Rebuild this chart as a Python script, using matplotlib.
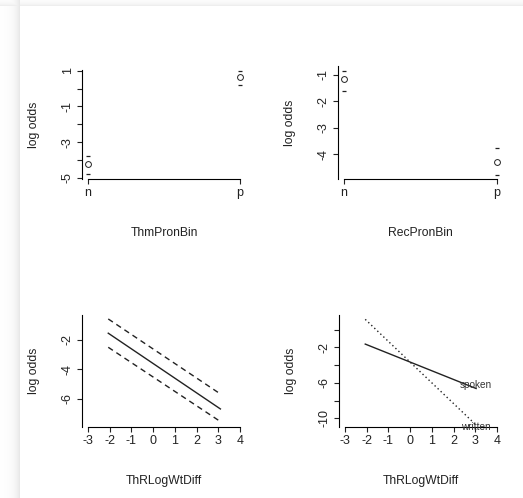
import numpy as np
import matplotlib.pyplot as plt

plt.rcParams['font.family'] = ['Liberation Sans', 'DejaVu Sans']

W, H = 523, 498

# ---- data ----
# panel 1: ThmPronBin (estimate, lower, upper)
thm_levels = ['n', 'p']
thm_est = [-4.24, 0.63]
thm_lo = [-4.79, 0.22]
thm_hi = [-3.78, 0.96]

# panel 2: RecPronBin
rec_levels = ['n', 'p']
rec_est = [-1.16, -4.28]
rec_lo = [-1.59, -4.79]
rec_hi = [-0.84, -3.78]

# panel 3: ThRLogWtDiff with confidence band
wt_x = [-2.07, 3.1]
wt_fit = [-1.54, -6.7]
wt_lower = [-2.5, -7.56]
wt_upper = [-0.57, -5.68]

# panel 4: ThRLogWtDiff by mode
mode_x = [-2.07, 3.04]
spoken = [-1.63, -6.64]
written = [1.16, -10.76]

fig = plt.figure(figsize=(W / 100, H / 100), dpi=100)

# page shadow on the left and top edges
xs = np.arange(W)[None, :]
ys = np.arange(H)[:, None]
shade = np.ones((H, W))
left = np.where(xs < 20, 1 - 0.11 * np.exp(-(20 - xs) / 5.0), 1.0)
top = np.where(ys < 6, 1 - 0.09 * np.exp(-(6 - ys) / 3.0), 1.0)
shade = np.minimum(shade * left, shade * top)
bg = fig.add_axes([0, 0, 1, 1], zorder=-1)
bg.imshow(np.dstack([shade] * 3), aspect='auto', extent=(0, W, H, 0))
bg.axis('off')


def make_ax(l, t, r, b):
    return fig.add_axes([l / W, 1 - b / H, (r - l) / W, (b - t) / H])


def style(ax, xt, xl, yt, yl, xlim, ylim, xlabel):
    ax.set_xlim(*xlim)
    ax.set_ylim(*ylim)
    for s in ['top', 'right']:
        ax.spines[s].set_visible(False)
    for s in ['left', 'bottom']:
        ax.spines[s].set_linewidth(0.8)
    ax.spines['bottom'].set_bounds(xt[0], xt[-1])
    ax.set_xticks(xt)
    ax.set_xticklabels(xl)
    ax.set_yticks(yt)
    ax.set_yticklabels(yl, rotation=90, va='center')
    ax.tick_params(length=3.8, width=0.8, pad=2, labelsize=9, direction='out',
                   colors='#222222')
    ax.set_xlabel(xlabel, fontsize=8.7, labelpad=20, color='#222222')
    ax.set_ylabel('log odds', fontsize=8.7, labelpad=16, color='#222222')
    ax.patch.set_alpha(0)


def cat_panel(ax, est, lo, hi):
    pos = [1, 2]
    ax.plot(pos, est, 'o', ms=4.2, mfc='none', mec='#222222', mew=0.7, clip_on=False)
    ax.plot(pos, lo, '_', ms=2.5, mec='#222222', mew=0.9, clip_on=False)
    ax.plot(pos, hi, '_', ms=2.5, mec='#222222', mew=0.9, clip_on=False)


# panel 1
ax1 = make_ax(82, 70, 246, 179)
cat_panel(ax1, thm_est, thm_lo, thm_hi)
style(ax1, [1, 2], thm_levels, list(range(-5, 2)),
      ['-5', '', '-3', '', '-1', '', '1'], (0.96, 2.04), (-5.06, 1.04), 'ThmPronBin')

# panel 2
ax2 = make_ax(338, 66, 503, 179)
cat_panel(ax2, rec_est, rec_lo, rec_hi)
style(ax2, [1, 2], rec_levels, [-4, -3, -2, -1], ['-4', '-3', '-2', '-1'],
      (0.96, 2.04), (-4.94, -0.66), 'RecPronBin')

# panel 3
ax3 = make_ax(82, 315, 246, 427)
ax3.plot(wt_x, wt_fit, color='#222222', lw=1.0)
ax3.plot(wt_x, wt_lower, color='#222222', lw=1.0, dashes=(4, 3))
ax3.plot(wt_x, wt_upper, color='#222222', lw=1.0, dashes=(4, 3))
style(ax3, list(range(-3, 5)), [str(v) for v in range(-3, 5)],
      [-6, -4, -2], ['-6', '-4', '-2'], (-3.28, 4.28), (-7.93, -0.30), 'ThRLogWtDiff')

# panel 4
ax4 = make_ax(339, 315, 503, 427)
ax4.plot(mode_x, spoken, color='#222222', lw=1.0)
ax4.plot(mode_x, written, color='#222222', lw=1.0, dashes=(1, 2))
ax4.text(2.3, spoken[-1] + 0.4, 'spoken', fontsize=7.2, va='center', ha='left',
         color='#333333', clip_on=False)
ax4.text(2.35, -10.95, 'written', fontsize=7.2, va='center', ha='left',
         color='#333333', clip_on=False)
style(ax4, list(range(-3, 5)), [str(v) for v in range(-3, 5)],
      [-10, -8, -6, -4, -2, 0], ['-10', '', '-6', '', '-2', ''],
      (-3.28, 4.28), (-10.98, 1.65), 'ThRLogWtDiff')

fig.savefig('out.png', dpi=100)
